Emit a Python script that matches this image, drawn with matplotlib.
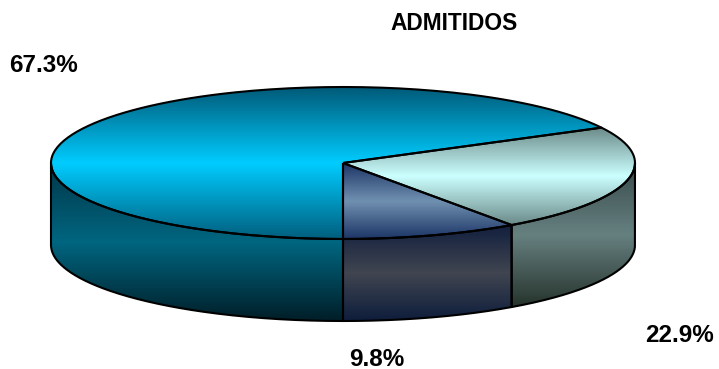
#!/usr/bin/env python
import numpy as np
import matplotlib
matplotlib.use('Agg')
import matplotlib.pyplot as plt
from matplotlib.colors import LinearSegmentedColormap
from matplotlib.patches import PathPatch
from matplotlib.path import Path

# data, clockwise from the bottom of the pie
labels = ['67.3%', '22.9%', '9.8%']
sizes = [67.3, 22.9, 9.8]
title = 'ADMITIDOS'

# gradient colours: edge -> middle -> edge
top_colors = [['#005a78', '#00ccff', '#005f7e'],
              ['#6a8a88', '#ccffff', '#6a8a88'],
              ['#1c3566', '#7090b0', '#1c3566']]
side_colors = [['#003648', '#006680', '#001e28'],
               ['#36484a', '#668080', '#26332c'],
               ['#121f3e', '#404550', '#0e1d3c']]

cx, cy, rx, ry, depth = 343, 163, 292, 76, 82
lab_pos = [(43.5, 65), (680, 335), (377, 359)]


def arc(a, b, dy=0):
    t = np.radians(np.linspace(a, b, 200))
    return np.column_stack([cx + rx * np.cos(t), cy + dy - ry * np.sin(t)])


def shade(ax, verts, colors):
    y0, y1 = verts[:, 1].min(), verts[:, 1].max()
    cmap = LinearSegmentedColormap.from_list('g', colors, N=256)
    v = np.linspace(0, 1, 256).reshape(-1, 1)
    im = ax.imshow(v, cmap=cmap, extent=[cx - rx - 2, cx + rx + 2, y1, y0],
                   aspect='auto', interpolation='bilinear', zorder=2)
    patch = PathPatch(Path(verts), facecolor='none', edgecolor='black', lw=1.5, zorder=3, joinstyle='round')
    ax.add_patch(patch)
    im.set_clip_path(patch)


fig = plt.figure(figsize=(7.19, 3.69), dpi=100)
ax = fig.add_axes([0, 0, 1, 1])
ax.set_axis_off()

# angles of each slice
ends = 270 - np.cumsum(sizes) * 3.6
starts = np.r_[270, ends[:-1]]

# walls first, only the front half of the pie shows one
for s, e, col in zip(starts, ends, side_colors):
    for low, high in [(180, 360), (-180, 0)]:
        lo, hi = max(e, low), min(s, high)
        if hi > lo:
            verts = np.vstack([arc(lo, hi), arc(hi, lo, depth), arc(lo, lo)[:1]])
            shade(ax, verts, col)

# top faces
for s, e, col in zip(starts, ends, top_colors):
    verts = np.vstack([[[cx, cy]], arc(s, e), [[cx, cy]]])
    shade(ax, verts, col)

ax.set_xlim(0, 719)
ax.set_ylim(369, 0)

font = ['Liberation Sans', 'DejaVu Sans']
ax.text(454, 23.5, title, ha='center', va='center', family=font, weight='bold', fontsize=16.4, color='black')
for lab, (x, y) in zip(labels, lab_pos):
    ax.text(x, y, lab, ha='center', va='center', family=font, weight='bold', fontsize=17.5, color='black')

fig.savefig('out.png', dpi=100)
